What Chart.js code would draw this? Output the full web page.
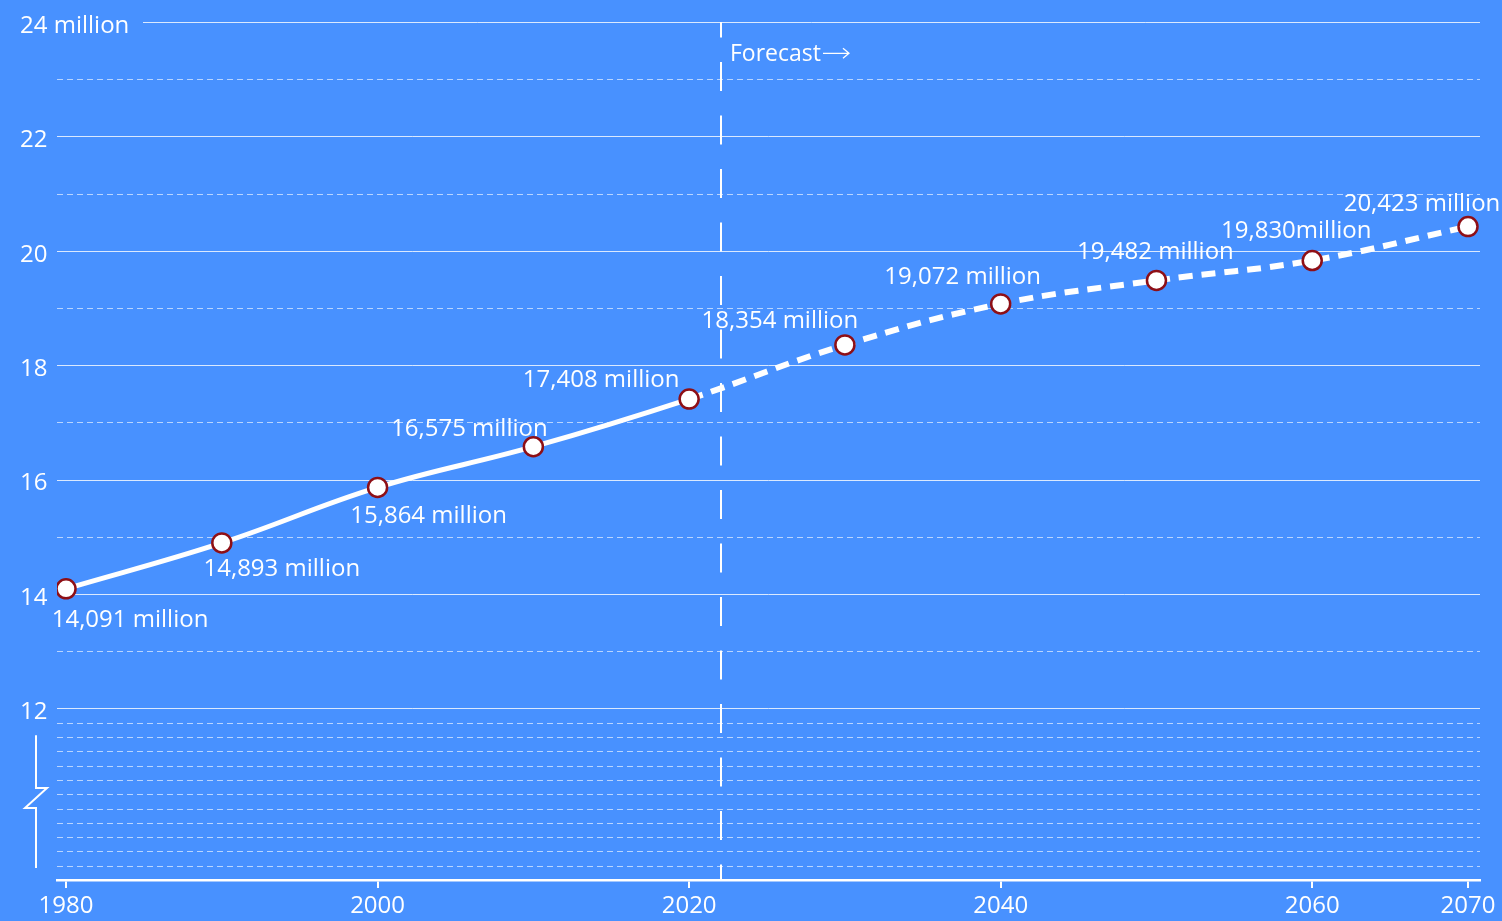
<!DOCTYPE html>
<html>
<head>
<meta charset="utf-8">
<script src="https://cdn.jsdelivr.net/npm/chart.js@4/dist/chart.umd.min.js"></script>
<style>
  html, body { margin: 0; padding: 0; background: #4891ff; }
  #wrap { width: 1502px; height: 921px; position: relative; }
</style>
</head>
<body>
<div id="wrap"><canvas id="c" width="1502" height="921"></canvas></div>
<script>
// Population, actual to 2020 and projected afterwards (millions)
const years = [1980, 1990, 2000, 2010, 2020, 2030, 2040, 2050, 2060, 2070];
const population = [14.091, 14.893, 15.864, 16.575, 17.408, 18.354, 19.072, 19.482, 19.830, 20.423];
const valueLabels = ['14,091 million', '14,893 million', '15,864 million', '16,575 million', '17,408 million',
                     '18,354 million', '19,072 million', '19,482 million', '19,830million', '20,423 million'];

const xTickYears = [1980, 2000, 2020, 2040, 2060, 2070];
const yTickValues = [12, 14, 16, 18, 20, 22, 24];
const yTickLabels = ['12', '14', '16', '18', '20', '22', '24 million'];
const solidGridValues = [12, 14, 16, 18, 20, 22, 24];
const dashedGridValues = [13, 15, 17, 19, 21, 23,
                          9.25, 9.5, 9.75, 10, 10.25, 10.5, 10.75, 11, 11.25, 11.5, 11.75];
const forecastStartYear = 2020;
const forecastMarkerYear = 2022;

// label placement relative to each point (px)
const labelOffsets = [[64, 31], [60, 26], [51, 29], [-64, -18], [-88, -19],
                      [-65, -24], [-38, -27], [-1, -28], [-16, -29], [-46, -22]];

const FONT = '"Open Sans", "Noto Sans", sans-serif';
const WHITE = '#ffffff';

const decorPlugin = {
  id: 'decor',
  beforeDatasetsDraw(chart) {
    const { ctx, chartArea: a, scales: { x, y } } = chart;
    ctx.save();
    // dashed minor grid
    ctx.strokeStyle = 'rgba(255,255,255,0.62)';
    ctx.lineWidth = 1;
    ctx.setLineDash([6, 4]);
    dashedGridValues.forEach(v => {
      const py = Math.round(y.getPixelForValue(v)) + 0.5;
      ctx.beginPath(); ctx.moveTo(a.left, py); ctx.lineTo(a.right, py); ctx.stroke();
    });
    // solid major grid
    ctx.setLineDash([]);
    ctx.strokeStyle = 'rgba(255,255,255,0.8)';
    solidGridValues.forEach(v => {
      const py = Math.round(y.getPixelForValue(v)) + 0.5;
      const startX = v === 24 ? a.left + 86 : a.left;
      ctx.beginPath(); ctx.moveTo(startX, py); ctx.lineTo(a.right, py); ctx.stroke();
    });
    // y tick labels
    ctx.fillStyle = WHITE;
    ctx.font = '24px ' + FONT;
    ctx.textAlign = 'left';
    ctx.textBaseline = 'middle';
    yTickValues.forEach((v, i) => {
      ctx.fillText(yTickLabels[i], 20, y.getPixelForValue(v) + 4);
    });
    // axis break symbol
    ctx.strokeStyle = WHITE;
    ctx.lineWidth = 2;
    const bx = 36;
    ctx.beginPath();
    ctx.moveTo(bx, y.getPixelForValue(11.53));
    ctx.lineTo(bx, y.getPixelForValue(10.61));
    ctx.lineTo(bx + 11, y.getPixelForValue(10.61));
    ctx.lineTo(bx - 11, y.getPixelForValue(10.26));
    ctx.lineTo(bx, y.getPixelForValue(10.26));
    ctx.lineTo(bx, y.getPixelForValue(9.21));
    ctx.stroke();
    // forecast divider
    const fx = Math.round(x.getPixelForValue(forecastMarkerYear)) + 1;
    ctx.lineWidth = 2;
    ctx.setLineDash([29, 24.5]);
    ctx.lineDashOffset = 13.5;
    ctx.beginPath(); ctx.moveTo(fx, a.top); ctx.lineTo(fx, a.bottom); ctx.stroke();
    ctx.setLineDash([]);
    ctx.font = '23px ' + FONT;
    ctx.fillText('Forecast', fx + 9, y.getPixelForValue(23.47) + 2);
    const tw = ctx.measureText('Forecast').width;
    // arrow
    const ax = fx + 9 + tw + 2, ay = y.getPixelForValue(23.47) + 1;
    ctx.lineWidth = 1.3;
    ctx.beginPath();
    ctx.moveTo(ax, ay); ctx.lineTo(ax + 26, ay);
    ctx.moveTo(ax + 20, ay - 5); ctx.lineTo(ax + 26, ay); ctx.lineTo(ax + 20, ay + 5);
    ctx.stroke();
    ctx.restore();
  },
  afterDatasetsDraw(chart) {
    const { ctx } = chart;
    const meta = chart.getDatasetMeta(0);
    ctx.save();
    ctx.fillStyle = WHITE;
    ctx.font = '24px ' + FONT;
    ctx.textAlign = 'center';
    ctx.textBaseline = 'middle';
    meta.data.forEach((pt, i) => {
      const [dx, dy] = labelOffsets[i];
      ctx.fillText(valueLabels[i], pt.x + dx, pt.y + dy);
    });
    ctx.restore();
  }
};

new Chart(document.getElementById('c'), {
  type: 'line',
  data: {
    datasets: [{
      data: years.map((yr, i) => ({ x: yr, y: population[i] })),
      borderColor: WHITE,
      borderWidth: 5,
      tension: 0.4,
      borderCapStyle: 'butt',
      pointRadius: 9.5,
      pointBorderWidth: 2.5,
      pointBorderColor: '#8e0f16',
      pointBackgroundColor: WHITE,
      segment: {
        borderDash: c => c.p0.parsed.x >= forecastStartYear ? [14, 9] : undefined,
        borderWidth: c => c.p0.parsed.x >= forecastStartYear ? 6 : 5
      }
    }]
  },
  options: {
    responsive: false,
    devicePixelRatio: 1,
    animation: false,
    layout: { padding: { left: 57, right: 22, top: 22, bottom: 0 } },
    plugins: { legend: { display: false }, tooltip: { enabled: false } },
    scales: {
      x: {
        type: 'linear',
        min: 1979.42,
        max: 2070.77,
        afterBuildTicks: s => { s.ticks = xTickYears.map(v => ({ value: v })); },
        afterFit: s => { s.height = 41; },
        ticks: {
          color: WHITE,
          font: { family: FONT, size: 24 },
          padding: 4,
          maxRotation: 0,
          autoSkip: false,
          callback: v => String(v)
        },
        grid: { drawOnChartArea: false, color: WHITE, tickLength: 8, lineWidth: 2 },
        border: { color: WHITE, width: 2.5 }
      },
      y: {
        type: 'linear',
        min: 9,
        max: 24,
        display: false
      }
    }
  },
  plugins: [decorPlugin]
});
</script>
</body>
</html>
